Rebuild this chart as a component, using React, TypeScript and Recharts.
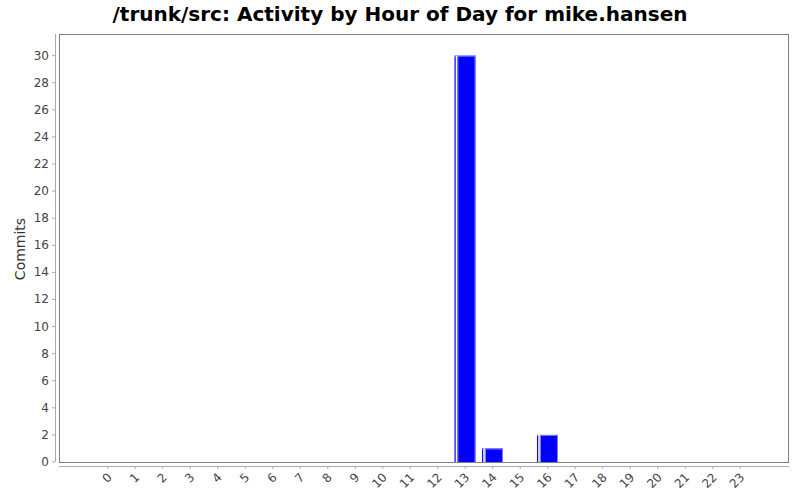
import { BarChart, Bar, XAxis, YAxis } from 'recharts';

const hours = [
  '0', '1', '2', '3', '4', '5', '6', '7', '8', '9', '10', '11',
  '12', '13', '14', '15', '16', '17', '18', '19', '20', '21', '22', '23',
];
const commits = [0, 0, 0, 0, 0, 0, 0, 0, 0, 0, 0, 0, 0, 30, 1, 0, 2, 0, 0, 0, 0, 0, 0, 0];
const yTicks = [0, 2, 4, 6, 8, 10, 12, 14, 16, 18, 20, 22, 24, 26, 28, 30];

const data = hours.map((h, i) => ({ hour: h, commits: commits[i] }));

const FONT = '"DejaVu Sans", Verdana, sans-serif';

// JFreeChart-style bar: blue with a white highlight stripe on the left
const GlossyBar = (props: any) => {
  const { x, y, width, height } = props;
  if (!height || height <= 0) return null;
  return (
    <g>
      <rect x={x} y={y} width={width} height={height} fill="#0000ff" />
      <rect x={x} y={y} width={width} height={1} fill="#8080ff" />
      <rect x={x + width - 1} y={y} width={1} height={height} fill="#8080ff" />
      <rect x={x + 1.2} y={y} width={1.6} height={height} fill="#ffffff" />
      <rect x={x + 3} y={y} width={0.8} height={height} fill="#a0a0ff" />
    </g>
  );
};

const YTick = ({ x, y, payload }: any) => (
  <g>
    <line x1={x - 7} x2={x - 4} y1={y} y2={y} stroke="#aaaaaa" />
    <text x={x - 10} y={y} dy={4} textAnchor="end" fontSize={12} fill="#444444" fontFamily={FONT}>
      {payload.value}
    </text>
  </g>
);

const XTick = ({ x, y, payload }: any) => (
  <g>
    <line x1={x} x2={x} y1={y + 4} y2={y + 7} stroke="#aaaaaa" />
    <text
      x={x + 5}
      y={y + 16}
      textAnchor="end"
      fontSize={12}
      fill="#444444"
      fontFamily={FONT}
      transform={`rotate(-45 ${x + 5} ${y + 16})`}
    >
      {payload.value}
    </text>
  </g>
);

export default function App() {
  return (
    <div style={{ position: 'absolute', left: 0, top: 0, width: 800, height: 500, background: '#fff' }}>
      <BarChart
        width={800}
        height={500}
        data={data}
        margin={{ top: 34, right: 11, bottom: 0, left: 0 }}
        barCategoryGap={0}
      >
        <XAxis
          dataKey="hour"
          height={38}
          axisLine={false}
          tickLine={false}
          tickSize={0}
          tickMargin={0}
          interval={0}
          padding={{ left: 35, right: 35 }}
          tick={<XTick />}
        />
        <YAxis
          width={59}
          domain={[0, 31.6]}
          ticks={yTicks}
          axisLine={false}
          tickLine={false}
          tickSize={0}
          tickMargin={0}
          allowDataOverflow
          tick={<YTick />}
        />
        <Bar dataKey="commits" barSize={21} isAnimationActive={false} shape={<GlossyBar />} />
      </BarChart>
      <svg width={800} height={500} style={{ position: 'absolute', left: 0, top: 0, pointerEvents: 'none' }}>
        <text x={400} y={21} textAnchor="middle" fontSize={20} fontWeight="bold" fontFamily={FONT} fill="#000">
          /trunk/src: Activity by Hour of Day for mike.hansen
        </text>
        <rect x={59.5} y={34.5} width={729} height={428} fill="none" stroke="#808080" />
        <line x1={55.5} x2={55.5} y1={34} y2={462} stroke="#aaaaaa" />
        <line x1={59} x2={789} y1={466.5} y2={466.5} stroke="#aaaaaa" />
        <text
          x={25}
          y={249}
          textAnchor="middle"
          fontSize={14}
          fill="#333333"
          fontFamily={FONT}
          transform="rotate(-90 25 249)"
        >
          Commits
        </text>
      </svg>
    </div>
  );
}
